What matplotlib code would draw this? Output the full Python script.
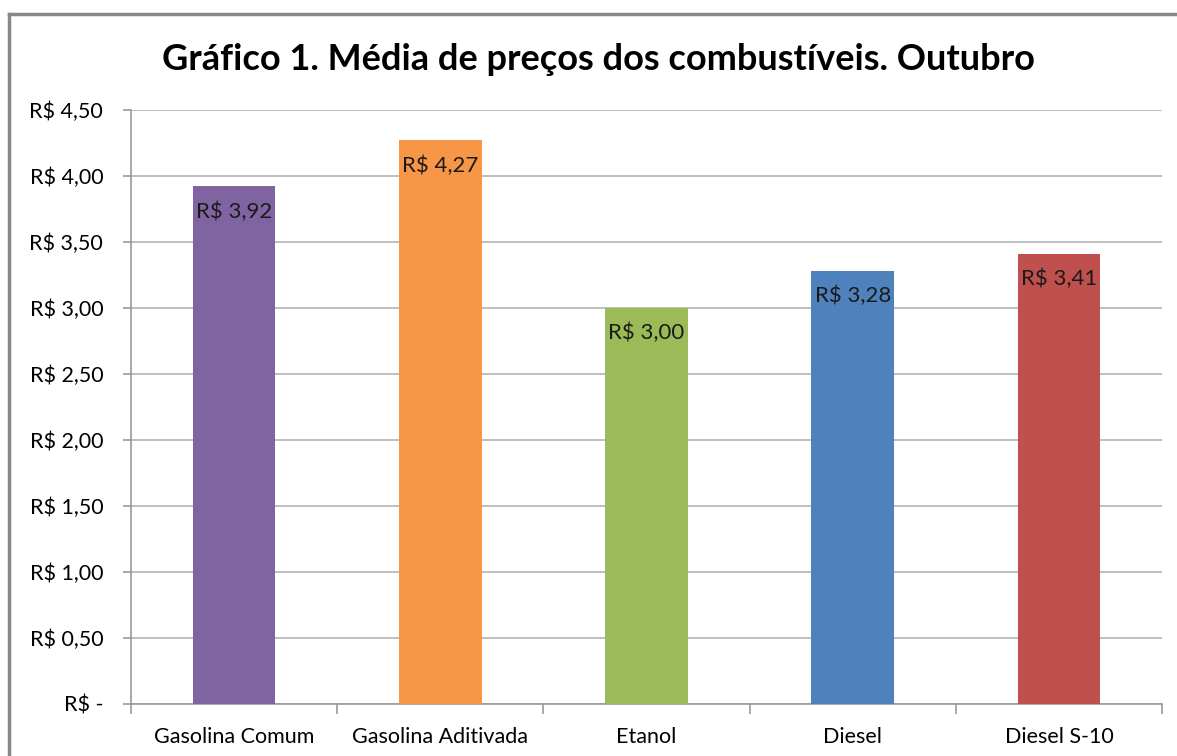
import matplotlib.pyplot as plt
from matplotlib.ticker import FuncFormatter, MultipleLocator
from matplotlib.lines import Line2D

categories = ['Gasolina Comum', 'Gasolina Aditivada', 'Etanol', 'Diesel', 'Diesel S-10']
prices = [3.92, 4.27, 3.00, 3.28, 3.41]
colors = ['#8064A2', '#F79646', '#9BBB59', '#4F81BD', '#C0504D']

plt.rcParams['font.family'] = ['Lato', 'DejaVu Sans']

W, H = 1177, 756
fig = plt.figure(figsize=(W / 100, H / 100), dpi=100)
ax = fig.add_axes([131 / W, 1 - 703.5 / H, (1162 - 131) / W, (703.5 - 110) / H])


def brl(v, pos=None):
    if abs(v) < 1e-9:
        return 'R$ -'
    return 'R$ ' + f'{v:.2f}'.replace('.', ',')


x = range(len(categories))
bars = ax.bar(x, prices, width=0.40, color=colors, zorder=3)
for b, v in zip(bars, prices):
    ax.text(b.get_x() + b.get_width() / 2, v - 0.19, brl(v), ha='center', va='center',
            fontsize=16, color='#1a1a1a', zorder=4)

ax.set_xlim(-0.5, len(categories) - 0.5)
ax.set_ylim(0, 4.5)
ax.yaxis.set_major_locator(MultipleLocator(0.5))
ax.yaxis.set_major_formatter(FuncFormatter(brl))
ax.grid(axis='y', color='#b3b3b3', linewidth=1.2, zorder=0)

ax.set_xticks(list(x))
ax.set_xticklabels(categories)
ax.set_xticks([i - 0.5 for i in range(len(categories) + 1)], minor=True)
ax.tick_params(axis='x', which='major', length=0, pad=17, labelsize=15.5)
ax.tick_params(axis='x', which='minor', length=7, color='#999999', width=1.2)
ax.tick_params(axis='y', length=6, color='#999999', width=1.2, labelsize=15.5, pad=14)

for s in ['top', 'right']:
    ax.spines[s].set_visible(False)
for s in ['left', 'bottom']:
    ax.spines[s].set_color('#999999')
    ax.spines[s].set_linewidth(1.2)

fig.text(598 / W, 1 - 60 / H, 'Gráfico 1. Média de preços dos combustíveis. Outubro',
         ha='center', va='center', fontsize=26, fontweight='bold')

# chart area border (left and top visible)
fig.add_artist(Line2D([9 / W, 9 / W], [0, 1 - 14 / H], color='#888888', lw=2.5))
fig.add_artist(Line2D([9 / W, 1.0], [1 - 14 / H, 1 - 14 / H], color='#888888', lw=2.5))

fig.savefig('out.png', dpi=100)
